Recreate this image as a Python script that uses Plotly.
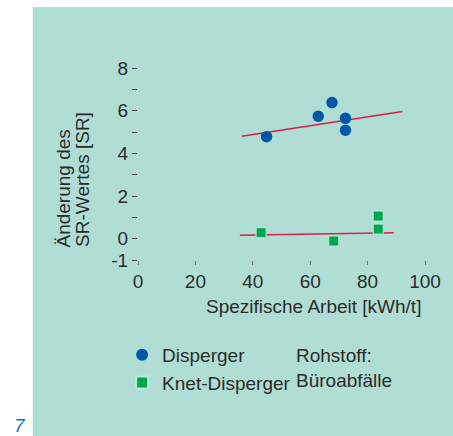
import plotly.graph_objects as go

# Data
disp_x = [44.8, 62.8, 67.6, 72.3, 72.3]
disp_y = [4.78, 5.74, 6.38, 5.64, 5.08]
knet_x = [42.9, 68.2, 83.7, 83.7]
knet_y = [0.28, -0.11, 1.06, 0.45]
fit_disp_x = [36.2, 92.1]
fit_disp_y = [4.80, 5.96]
fit_knet_x = [35.5, 89.1]
fit_knet_y = [0.16, 0.28]
x_ticks = [0, 20, 40, 60, 80, 100]
y_ticks = [-1, 0, 1, 2, 3, 4, 5, 6, 7, 8]
y_ticktext = ["-1", "0", "", "2", "", "4", "", "6", "", "8"]

FONT = "Liberation Sans, Arial, sans-serif"
TXT = "#2b2b2b"
TEAL = "#b0ded4"
BLUE = "#0057a8"
GREEN = "#00a650"
RED = "#dc1e4b"

W, H = 453, 436
L, R, T, B = 138, 26, 68, 176
pw, ph = W - L - R, H - T - B
def px(x): return (x - L) / pw
def py(y): return (H - B - y) / ph

fig = go.Figure()
fig.add_trace(go.Scatter(x=fit_disp_x, y=fit_disp_y, mode="lines",
                         line=dict(color=RED, width=1.6), showlegend=False, hoverinfo="skip"))
fig.add_trace(go.Scatter(x=fit_knet_x, y=fit_knet_y, mode="lines",
                         line=dict(color=RED, width=1.6), showlegend=False, hoverinfo="skip"))
fig.add_trace(go.Scatter(x=disp_x, y=disp_y, mode="markers", name="Disperger",
                         marker=dict(symbol="circle", size=11.5, color=BLUE, line=dict(width=0))))
fig.add_trace(go.Scatter(x=knet_x, y=knet_y, mode="markers", name="Knet-Disperger",
                         marker=dict(symbol="square", size=10, color=GREEN,
                                     line=dict(width=1, color="#bfe8d6"))))

fig.update_layout(
    width=W, height=H,
    margin=dict(l=L, r=R, t=T, b=B),
    paper_bgcolor="white", plot_bgcolor="white",
    font=dict(family=FONT, size=19, color=TXT),
    showlegend=True,
    legend=dict(x=px(122), y=py(336), xanchor="left", yanchor="top",
                bgcolor="rgba(0,0,0,0)", font=dict(size=19, color=TXT),
                tracegroupgap=0, itemsizing="constant"),
    xaxis=dict(range=[0, 100], tickvals=x_ticks, showgrid=False, zeroline=False,
               showline=False, ticks="outside", ticklen=4, tickcolor="#777",
               tickfont=dict(size=19, color=TXT)),
    yaxis=dict(range=[-1, 8], tickvals=y_ticks, ticktext=y_ticktext, showgrid=False,
               zeroline=False, showline=False, ticks="outside", ticklen=5,
               tickcolor="#444", tickfont=dict(size=19, color=TXT)),
    shapes=[dict(type="rect", xref="paper", yref="paper", layer="below",
                 x0=px(32), x1=px(W + 5), y0=py(H + 5), y1=py(7),
                 fillcolor=TEAL, line=dict(width=0))],
    annotations=[
        dict(text="Änderung des", xref="paper", yref="paper", x=px(62), y=py(250),
             xanchor="center", yanchor="bottom", textangle=-90, showarrow=False,
             font=dict(size=19, color=TXT)),
        dict(text="SR-Wertes [SR]", xref="paper", yref="paper", x=px(82), y=py(249),
             xanchor="center", yanchor="bottom", textangle=-90, showarrow=False,
             font=dict(size=19, color=TXT)),
        dict(text="Spezifische Arbeit [kWh/t]", xref="paper", yref="paper", x=px(425), y=py(306.7),
             xanchor="right", yanchor="middle", showarrow=False, font=dict(size=19, color=TXT)),
        dict(text="Rohstoff:<br>Büroabfälle", xref="paper", yref="paper", x=px(295), y=py(368),
             xanchor="left", yanchor="middle", align="left", showarrow=False,
             font=dict(size=19, color=TXT)),
        dict(text="<i>7</i>", xref="paper", yref="paper", x=px(19), y=py(425),
             xanchor="center", yanchor="middle", showarrow=False,
             font=dict(size=19, color="#1e6fbf")),
    ],
)

fig.write_html("out.html", config={"displayModeBar": False},
               post_script="document.body.style.margin='0';document.body.style.overflow='hidden';")
